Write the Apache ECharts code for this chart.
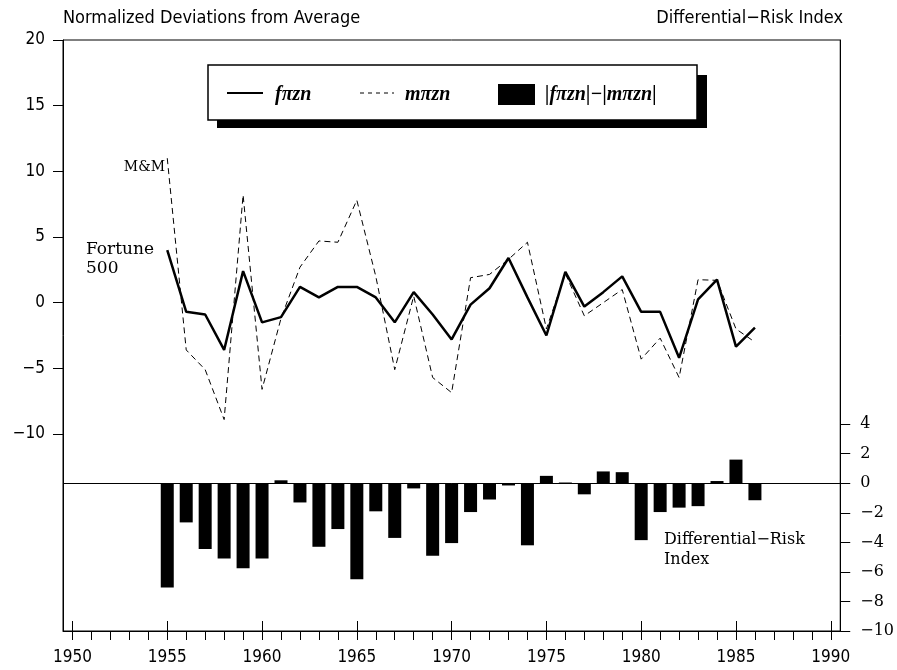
<!DOCTYPE html>
<html>
<head>
<meta charset="utf-8">
<script src="https://cdn.jsdelivr.net/npm/echarts@6/dist/echarts.min.js"></script>
<style>html,body{margin:0;padding:0;background:#fff}#c{width:897px;height:670px}</style>
</head>
<body>
<div id="c"></div>
<script>
const years = [1955,1956,1957,1958,1959,1960,1961,1962,1963,1964,1965,1966,1967,1968,1969,1970,1971,1972,1973,1974,1975,1976,1977,1978,1979,1980,1981,1982,1983,1984,1985,1986];
const fortune = [4.0,-0.7,-0.9,-3.6,2.4,-1.5,-1.1,1.2,0.4,1.2,1.2,0.4,-1.5,0.8,-0.9,-2.8,-0.15,1.1,3.4,0.4,-2.5,2.35,-0.3,0.8,2.0,-0.7,-0.7,-4.2,0.25,1.75,-3.35,-1.9];
const mm = [11.0,-3.6,-5.1,-8.9,8.2,-6.6,-1.2,2.7,4.7,4.6,7.8,2.0,-5.1,0.5,-5.7,-6.85,1.9,2.15,3.3,4.6,-2.0,2.2,-1.0,0.0,1.0,-4.3,-2.7,-5.7,1.75,1.7,-2.0,-3.0];
const diffRisk = [-7.05,-2.65,-4.45,-5.1,-5.75,-5.1,0.2,-1.3,-4.3,-3.1,-6.5,-1.9,-3.7,-0.35,-4.9,-4.05,-1.95,-1.1,-0.15,-4.2,0.5,0.05,-0.75,0.8,0.75,-3.85,-1.95,-1.65,-1.55,0.15,1.6,-1.15];
const xLabels = [1950,1955,1960,1965,1970,1975,1980,1985,1990];
const xMinorTicks = [1950,1951,1952,1953,1954,1955,1956,1957,1958,1959,1960,1961,1962,1963,1964,1965,1966,1967,1968,1969,1970,1971,1972,1973,1974,1975,1976,1977,1978,1979,1980,1981,1982,1983,1984,1985,1986,1987,1988,1989,1990];
const leftTicks = [-10,-5,0,5,10,15,20];
const rightTicks = [-10,-8,-6,-4,-2,0,2,4];

const minus = v => String(v).replace('-', '\u2212');
const sansFont = '"DejaVu Sans Condensed","DejaVu Sans",sans-serif';
const serifFont = '"DejaVu Serif",serif';
const legendFont = 'italic bold 20px "Liberation Serif",serif';

const chart = echarts.init(document.getElementById('c'), null, {renderer:'canvas'});
chart.setOption({
  animation: false,
  backgroundColor: '#fff',
  grid: {left: 63, right: 55, top: 40, bottom: 39, show: true, borderColor: '#000', borderWidth: 1},
  xAxis: [{
    type: 'value', min: 1949.5, max: 1990.5,
    axisLine: {show: true, onZero: false, lineStyle: {color: '#000', width: 1}},
    splitLine: {show: false},
    axisTick: {show: true, customValues: xMinorTicks, length: 9, inside: false, lineStyle: {color: '#000'}},
    axisLabel: {customValues: xLabels, margin: 18, color: '#000', fontFamily: sansFont, fontSize: 17, formatter: v => String(v)}
  }, {
    type: 'value', min: 1949.5, max: 1990.5, position: 'bottom',
    axisLine: {show: false, onZero: false},
    splitLine: {show: false},
    axisTick: {show: true, customValues: xLabels, length: 10, inside: true, lineStyle: {color: '#000'}},
    axisLabel: {show: false}
  }],
  yAxis: [{
    type: 'value', min: -25, max: 20, position: 'left',
    axisLine: {show: true, onZero: false, lineStyle: {color: '#000'}},
    splitLine: {show: false},
    axisTick: {show: true, customValues: leftTicks, length: 10, lineStyle: {color: '#000'}},
    axisLabel: {customValues: leftTicks, margin: 18, color: '#000', fontFamily: sansFont, fontSize: 17, formatter: minus}
  }, {
    type: 'value', min: -10, max: 30, position: 'right',
    axisLine: {show: true, onZero: false, lineStyle: {color: '#000'}},
    splitLine: {show: false},
    axisTick: {show: true, customValues: rightTicks, length: 10, lineStyle: {color: '#000'}},
    axisLabel: {customValues: rightTicks, margin: 20, color: '#000', fontFamily: serifFont, fontSize: 16, formatter: minus}
  }],
  series: [{
    name: 'diff', type: 'bar', xAxisIndex: 0, yAxisIndex: 1,
    data: years.map((y, i) => [y, diffRisk[i]]),
    barWidth: 13, itemStyle: {color: '#000'},
    markLine: {silent: true, symbol: 'none', label: {show: false},
      lineStyle: {color: '#000', width: 1, type: 'solid'}, data: [{yAxis: 0}]}
  }, {
    name: 'mm', type: 'line', xAxisIndex: 0, yAxisIndex: 0,
    data: years.map((y, i) => [y, mm[i]]),
    symbol: 'none', lineStyle: {color: '#000', width: 1, type: [6, 4]}
  }, {
    name: 'fortune', type: 'line', xAxisIndex: 0, yAxisIndex: 0,
    data: years.map((y, i) => [y, fortune[i]]),
    symbol: 'none', lineStyle: {color: '#000', width: 2.5}
  }],
  graphic: [
    {type: 'text', left: 63, top: 9, style: {text: 'Normalized Deviations from Average', font: '18px ' + sansFont, fill: '#000'}},
    {type: 'text', right: 54, top: 9, style: {text: 'Differential\u2212Risk Index', font: '18px ' + sansFont, fill: '#000'}},
    {type: 'text', x: 165, y: 167, style: {text: 'M&M', font: '14px ' + serifFont, fill: '#000', align: 'right', verticalAlign: 'middle'}},
    {type: 'text', x: 86, y: 240, style: {text: 'Fortune\n500', font: '17px ' + serifFont, lineHeight: 19, fill: '#000', align: 'left', verticalAlign: 'top'}},
    {type: 'text', x: 664, y: 530, style: {text: 'Differential\u2212Risk\nIndex', font: '16px ' + serifFont, lineHeight: 20, fill: '#000', align: 'left', verticalAlign: 'top'}},
    {type: 'group', z: 100, children: [
      {type: 'rect', shape: {x: 217, y: 75, width: 490, height: 53}, style: {fill: '#000'}},
      {type: 'rect', shape: {x: 208, y: 65, width: 489, height: 55}, style: {fill: '#fff', stroke: '#000', lineWidth: 1.5}},
      {type: 'line', shape: {x1: 227, y1: 93, x2: 263, y2: 93}, style: {stroke: '#000', lineWidth: 2}},
      {type: 'text', x: 275, y: 95, style: {text: 'f\u03c0zn', font: legendFont, fill: '#000', verticalAlign: 'middle'}},
      {type: 'line', shape: {x1: 360, y1: 93, x2: 394, y2: 93}, style: {stroke: '#000', lineWidth: 1, lineDash: [4, 4]}},
      {type: 'text', x: 405, y: 95, style: {text: 'm\u03c0zn', font: legendFont, fill: '#000', verticalAlign: 'middle'}},
      {type: 'rect', shape: {x: 498, y: 84, width: 37, height: 21}, style: {fill: '#000'}},
      {type: 'text', x: 545, y: 95, style: {text: '|f\u03c0zn|\u2212|m\u03c0zn|', font: legendFont, fill: '#000', verticalAlign: 'middle'}}
    ]}
  ]
});
</script>
</body>
</html>
